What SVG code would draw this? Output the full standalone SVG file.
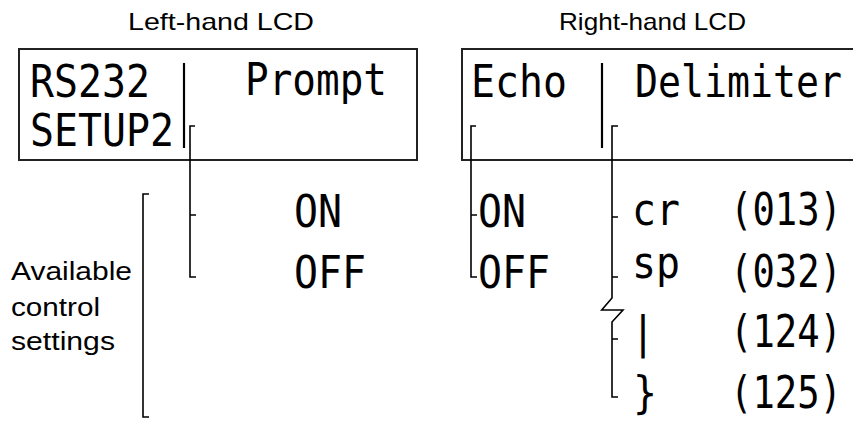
<svg xmlns="http://www.w3.org/2000/svg" width="853" height="421" viewBox="0 0 853 421">
<style>
.lbl{font-family:"Liberation Sans",Arial,sans-serif;font-size:24px;fill:#000}
.lcd{font-family:"DejaVu Sans Mono","Liberation Mono",monospace;font-size:44px;fill:#000}
.box{fill:none;stroke:#222;stroke-width:2}
.div{fill:none;stroke:#000;stroke-width:2.2}
.br{fill:none;stroke:#000;stroke-width:1.6}
</style>
<rect width="853" height="421" fill="#fff"/>
<g id="left-lcd">
<text class="lbl" x="128" y="30" textLength="186" lengthAdjust="spacingAndGlyphs">Left-hand LCD</text>
<rect class="box" x="19" y="49" width="398" height="111"/>
<text class="lcd" transform="translate(30,97) scale(0.906,1)">RS232</text>
<text class="lcd" transform="translate(30,146) scale(0.906,1)">SETUP2</text>
<text class="lcd" transform="translate(245,95) scale(0.894,1)">Prompt</text>
<path class="div" d="M184,63 V148"/>
</g>
<g id="right-lcd">
<text class="lbl" x="559" y="30" textLength="187" lengthAdjust="spacingAndGlyphs">Right-hand LCD</text>
<path class="box" d="M853,49 H462 V160 H853"/>
<text class="lcd" transform="translate(471,97) scale(0.906,1)">Echo</text>
<text class="lcd" transform="translate(635,97) scale(0.868,1)">Delimiter</text>
<path class="div" d="M602,63 V148"/>
</g>
<g id="prompt-options">
<text class="lcd" transform="translate(294,227) scale(0.906,1)">ON</text>
<text class="lcd" transform="translate(294,288) scale(0.906,1)">OFF</text>
</g>
<g id="echo-options">
<text class="lcd" transform="translate(478,227) scale(0.906,1)">ON</text>
<text class="lcd" transform="translate(478,288) scale(0.906,1)">OFF</text>
</g>
<g id="delimiter-options">
<text class="lcd" transform="translate(632,225) scale(0.906,1)">cr</text>
<text class="lcd" transform="translate(632,278) scale(0.906,1)">sp</text>
<text class="lcd" transform="translate(631,348) scale(0.906,1)">|</text>
<text class="lcd" transform="translate(633,408) scale(0.906,1)">}</text>
<text class="lcd" transform="translate(730,225) scale(0.845,1)">(013)</text>
<text class="lcd" transform="translate(730,287) scale(0.845,1)">(032)</text>
<text class="lcd" transform="translate(730,347) scale(0.845,1)">(124)</text>
<text class="lcd" transform="translate(730,408) scale(0.845,1)">(125)</text>
</g>
<g id="available-label">
<text class="lbl" style="font-size:26px" x="11" y="280" textLength="121" lengthAdjust="spacingAndGlyphs">Available</text>
<text class="lbl" style="font-size:26px" x="11" y="316" textLength="89" lengthAdjust="spacingAndGlyphs">control</text>
<text class="lbl" style="font-size:26px" x="11" y="350" textLength="104" lengthAdjust="spacingAndGlyphs">settings</text>
</g>
<g id="connectors">
<path class="br" d="M149,194 H143 V417 H149"/>
<path class="br" d="M195,126 H190 V277 H196 M190,215 H196"/>
<path class="br" d="M476,126 H471 V277 H477 M471,215 H477"/>
<path class="br" d="M618,126 H612 V298 L601.7,310 L623,310 L612,322 V397 H618 M612,217 H618 M612,277 H618 M612,339 H618"/>
</g>
</svg>
